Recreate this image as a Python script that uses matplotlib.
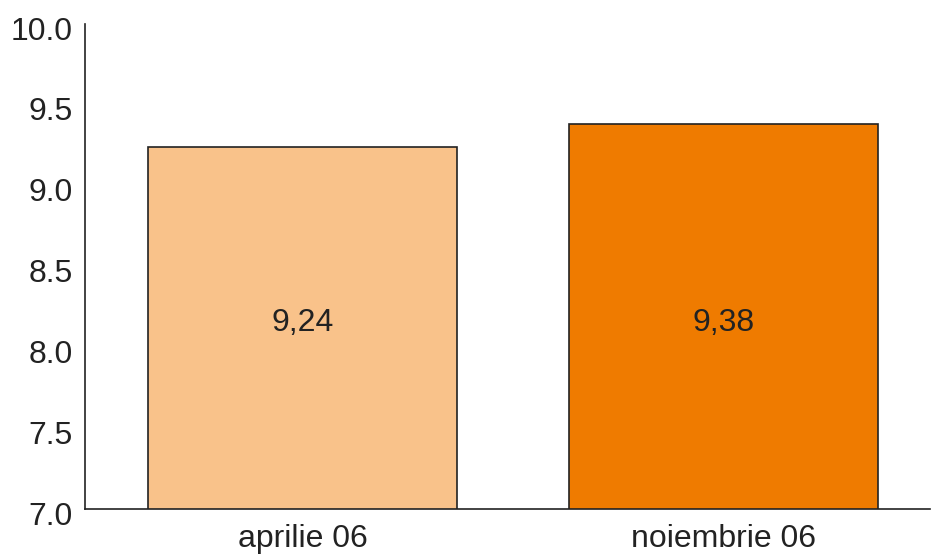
import numpy as np
import matplotlib.pyplot as plt
import matplotlib.transforms as mtransforms

plt.rcParams['font.family'] = ['Liberation Sans', 'DejaVu Sans']

# Data
categories = ['aprilie 06', 'noiembrie 06']
values = [9.24, 9.38]
value_labels = ['9,24', '9,38']
colors = ['#F9C28A', '#EF7B00']

fig = plt.figure(figsize=(9.33, 5.54), dpi=100)
ax = fig.add_axes([0.0911, 0.0812, 0.9057, 0.8755])

x = np.arange(len(categories))
ax.bar(x, values, width=0.733, color=colors, edgecolor='#222222', linewidth=1.2)

for xi, v, lab in zip(x, values, value_labels):
    ax.text(xi, 8.15, lab, ha='center', va='center', fontsize=23, color='#222222')

ax.set_ylim(7.0, 10.0)
ax.set_xlim(-0.516, 1.489)
ax.set_yticks(np.arange(7.0, 10.01, 0.5))
ax.set_yticklabels([f'{t:.1f}' for t in np.arange(7.0, 10.01, 0.5)])
ax.set_xticks(x)
ax.set_xticklabels(categories)

ax.tick_params(axis='both', length=0, labelsize=23, colors='#222222')
ax.tick_params(axis='y', pad=9)
ax.tick_params(axis='x', pad=11)

# nudge y tick labels slightly down like the original
shift = mtransforms.ScaledTranslation(0, -3 / 72, fig.dpi_scale_trans)
for lab in ax.get_yticklabels():
    lab.set_va('center_baseline')
    lab.set_transform(lab.get_transform() + shift)

for s in ['top', 'right']:
    ax.spines[s].set_visible(False)
for s in ['left', 'bottom']:
    ax.spines[s].set_linewidth(1.2)
    ax.spines[s].set_color('#222222')

fig.savefig('out.png', dpi=100)
